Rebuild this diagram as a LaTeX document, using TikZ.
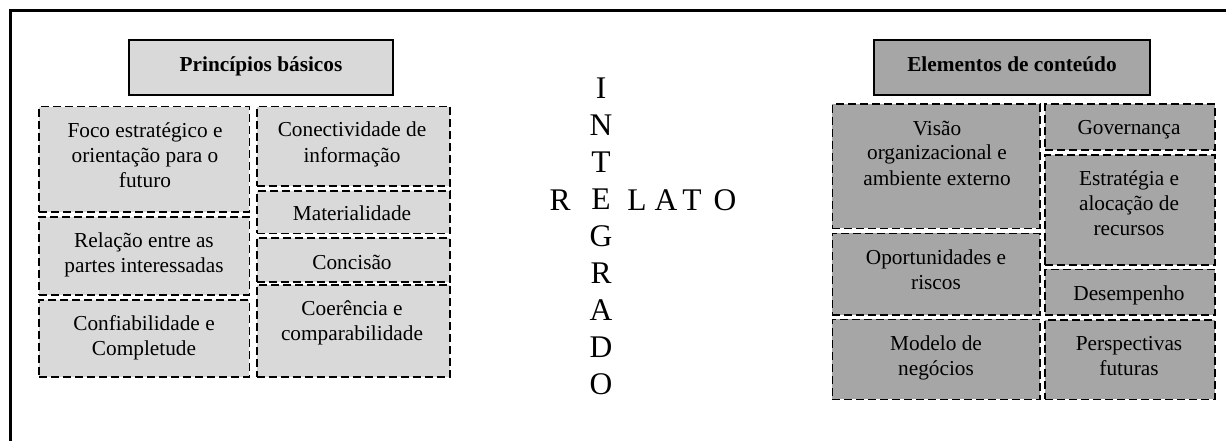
\documentclass[tikz,border=0pt]{standalone}
\usepackage{fontspec}
\setmainfont{Liberation Serif}
\usetikzlibrary{fit}
\definecolor{lightfill}{HTML}{D9D9D9}
\definecolor{darkfill}{HTML}{A6A6A6}
\tikzset{
  frameline/.style={line width=3pt},
  titlebox/.style={draw, line width=2pt, inner sep=0pt},
  partbox/.style={draw, line width=1.6pt, dash pattern=on 8pt off 4pt, inner sep=0pt},
  % multi-line texts are placed by the baseline of their last line
  boxtext/.style={anchor=base, align=center, inner sep=0pt,
    font=\fontsize{21.3}{25}\selectfont},
  titletext/.style={anchor=base, inner sep=0pt,
    font=\fontsize{21.3}{25}\selectfont\bfseries},
  bigletter/.style={anchor=base, inner sep=0pt,
    font=\fontsize{31.5}{37}\selectfont},
}
\begin{document}
\begin{tikzpicture}[x=1pt, y=-1pt]
\useasboundingbox (0,0) rectangle (1226,441);

% outer frame (open to the right and bottom)
\coordinate (fbl) at (10,460);
\coordinate (ftl) at (10,11);
\coordinate (ftr) at (1240,11);
\draw[frameline] (fbl) -- (ftl) -- (ftr);

% ---------- left block: basic principles ----------
\node[titlebox, fill=lightfill, fit={(128.7,40) (393.3,95)}] (tl) {};
\node[partbox, fill=lightfill, fit={(39,106.7) (249.3,211.7)}] (l1) {};
\node[partbox, fill=lightfill, fit={(39,216.7) (249.3,295)}] (l2) {};
\node[partbox, fill=lightfill, fit={(39,300) (249.3,376.7)}] (l3) {};
\node[partbox, fill=lightfill, fit={(256.7,106.7) (450,186)}] (r1) {};
\node[partbox, fill=lightfill, fit={(256.7,190.7) (450,233.3)}] (r2) {};
\node[partbox, fill=lightfill, fit={(256.7,237.7) (450,281.7)}] (r3) {};
\node[partbox, fill=lightfill, fit={(256.7,285) (450,376.7)}] (r4) {};

\node[titletext] (tlt) at (261,71.5) {Princípios básicos};
\node[boxtext] (l1t) at (145,187) {Foco estratégico e\\orientação para o\\futuro};
\node[boxtext] (l2t) at (144,272) {Relação entre as\\partes interessadas};
\node[boxtext] (l3t) at (144,355) {Confiabilidade e\\Completude};
\node[boxtext] (r1t) at (352,162) {Conectividade de\\informação};
\node[boxtext] (r2t) at (352,220) {Materialidade};
\node[boxtext] (r3t) at (352,269) {Concisão};
\node[boxtext] (r4t) at (352,340) {Coerência e\\comparabilidade};

% ---------- centre: crossword ----------
\node[bigletter, align=center] (vert) at (601,394)
  {I\\N\\T\\E\\G\\R\\A\\D\\O};
\node[bigletter] (hr) at (560,210) {R};
\node[bigletter] (hl) at (637,210) {L};
\node[bigletter] (ha) at (666,210) {A};
\node[bigletter] (ht) at (692,210) {T};
\node[bigletter] (ho) at (725,210) {O};

% ---------- right block: content elements ----------
\node[titlebox, fill=darkfill, fit={(874,40) (1150,95)}] (tr) {};
\node[partbox, fill=darkfill, fit={(832.3,104.3) (1040,228.3)}] (e1) {};
\node[partbox, fill=darkfill, fit={(832.3,233.3) (1040,315)}] (e2) {};
\node[partbox, fill=darkfill, fit={(832.3,319.3) (1040,399.3)}] (e3) {};
\node[partbox, fill=darkfill, fit={(1045,104.3) (1215,150)}] (f1) {};
\node[partbox, fill=darkfill, fit={(1045,155) (1215,265)}] (f2) {};
\node[partbox, fill=darkfill, fit={(1045,269.3) (1215,315)}] (f3) {};
\node[partbox, fill=darkfill, fit={(1045,320) (1215,399.3)}] (f4) {};

\node[titletext] (trt) at (1012,71.5) {Elementos de conteúdo};
\node[boxtext] (e1t) at (937,185) {Visão\\organizacional e\\ambiente externo};
\node[boxtext] (e2t) at (936,289) {Oportunidades e\\riscos};
\node[boxtext] (e3t) at (936,375) {Modelo de\\negócios};
\node[boxtext] (f1t) at (1129,135) {Governança};
\node[boxtext] (f2t) at (1129,235) {Estratégia e\\alocação de\\recursos};
\node[boxtext] (f3t) at (1129,300) {Desempenho};
\node[boxtext] (f4t) at (1129,375) {Perspectivas\\futuras};
\end{tikzpicture}
\end{document}
